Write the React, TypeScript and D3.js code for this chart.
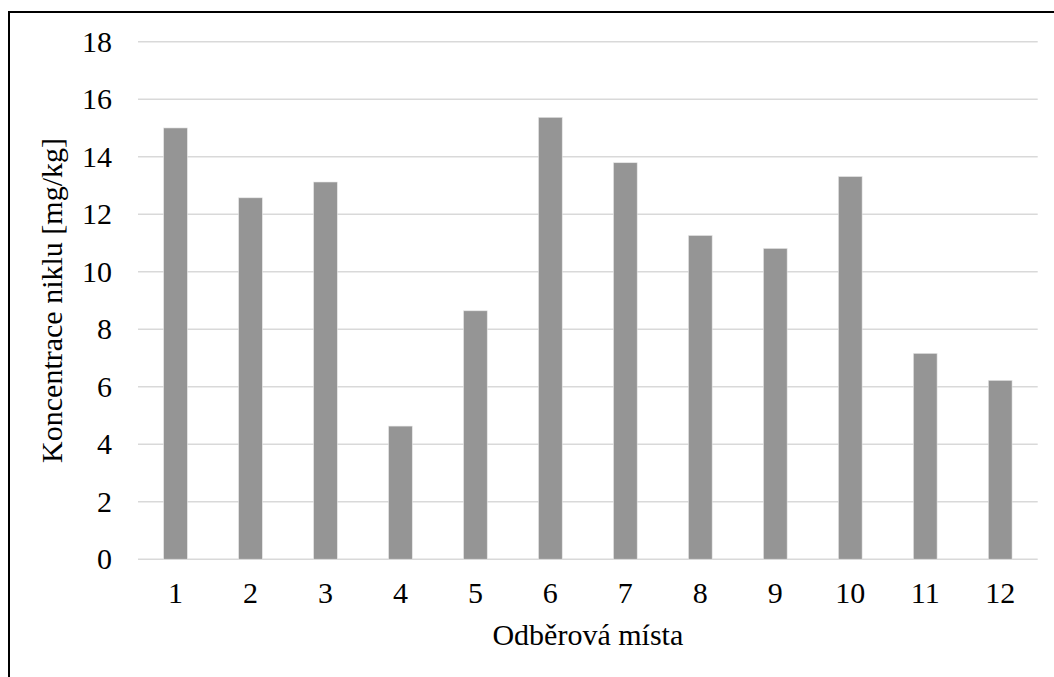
import React from "react";
import * as d3 from "d3";

const categories: string[] = ["1", "2", "3", "4", "5", "6", "7", "8", "9", "10", "11", "12"];
const values: number[] = [15.0, 12.57, 13.12, 4.63, 8.64, 15.37, 13.79, 11.26, 10.81, 13.31, 7.16, 6.22];
const yTicks: number[] = [0, 2, 4, 6, 8, 10, 12, 14, 16, 18];
const xTitle = "Odběrová místa";
const yTitle = "Koncentrace niklu [mg/kg]";

const W = 1054;
const H = 677;
const left = 138;
const right = 1037.7;
const top = 41.7;
const bottom = 559.2;
const FONT = '"Liberation Serif", "Times New Roman", Times, "DejaVu Serif", serif';
const textStyle = { fontFamily: FONT, fontSize: "30px" };

export default function App() {
  const x = d3.scaleBand<string>().domain(categories).range([left, right]).paddingInner(0.684).paddingOuter(0.342);
  const y = d3.scaleLinear().domain([0, 18]).range([bottom, top]);

  return (
    <svg width={W} height={H} style={{ position: "absolute", left: 0, top: 0, background: "#fff" }}>
      <rect x={0} y={0} width={W} height={H} fill="#fff" />
      <rect x={9} y={12} width={W + 20} height={H + 20} fill="none" stroke="#000" strokeWidth={2} />
      {yTicks.map((t) => (
        <line key={"g" + t} x1={left} x2={right} y1={y(t)} y2={y(t)} stroke="#d9d9d9" strokeWidth={1.5} />
      ))}
      {values.map((v, i) => (
        <rect
          key={"b" + i}
          x={x(categories[i])}
          y={y(v)}
          width={x.bandwidth()}
          height={y(0) - y(v)}
          fill="#959595"
          stroke="#e6e6e6"
          strokeWidth={0.6}
        />
      ))}
      {yTicks.map((t) => (
        <text key={"yt" + t} x={112} y={y(t) + 10} textAnchor="end" style={textStyle} fill="#000">
          {t}
        </text>
      ))}
      {categories.map((c) => (
        <text
          key={"xt" + c}
          x={(x(c) as number) + x.bandwidth() / 2}
          y={602.7}
          textAnchor="middle"
          style={textStyle}
          fill="#000"
        >
          {c}
        </text>
      ))}
      <text x={(left + right) / 2} y={645} textAnchor="middle" style={textStyle} fill="#000">
        {xTitle}
      </text>
      <text
        transform={`translate(61.5, ${(top + bottom) / 2}) rotate(-90)`}
        textAnchor="middle"
        style={textStyle}
        fill="#000"
      >
        {yTitle}
      </text>
    </svg>
  );
}
